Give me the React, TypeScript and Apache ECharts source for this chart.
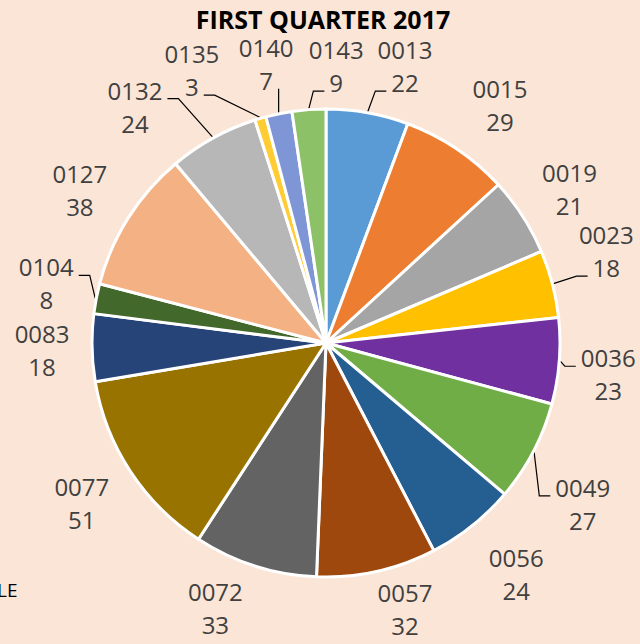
import React, { useEffect, useRef } from "react";
import * as echarts from "echarts";

const categories = ["0013", "0015", "0019", "0023", "0036", "0049", "0056", "0057", "0072", "0077", "0083", "0104", "0127", "0132", "0135", "0140", "0143"];
const values = [22, 29, 21, 18, 23, 27, 24, 32, 33, 51, 18, 8, 38, 24, 3, 7, 9];
const colors = ["#5B9BD5", "#ED7D31", "#A5A5A5", "#FFC000", "#7030A0", "#70AD47", "#255E91", "#9E480E", "#636363", "#997300", "#264478", "#43682B", "#F4B183", "#B7B7B7", "#FFCD33", "#7F96D6", "#8CC168"];
const showLine = [true, false, false, true, true, true, false, false, false, false, false, true, false, true, true, true, true];
const titleText = "FIRST QUARTER 2017";

// layout constants (not data)
const CX = 326;
const CY = 343;
const R = 234;
const LABEL_R = 290;
const FONT = 24;
const LINE_H = 33;
const DIGIT_W = FONT * 0.572;
const labelAngleShift = [5.7, 2.2, 0.5, -3.5, 1.9, 4.4, -0.9, -4.0, 5.0, 0, -0.2, 1.1, -0.4, -10.1, -9.9, -0.5, 6.3];
const labelRadiusShift = [-2, 5, -2, 5, -6, 13, 9, -13, -3, 2, -6, -4, 0, 14, 14, -5, -13];

const total = values.reduce((a, b) => a + b, 0);
const midAngles = values.map((v, i) => {
  const before = values.slice(0, i).reduce((a, b) => a + b, 0);
  return ((before + v / 2) / total) * 360;
});
const polar = (deg: number, r: number): [number, number] => {
  const a = (deg * Math.PI) / 180;
  return [CX + r * Math.sin(a), CY - r * Math.cos(a)];
};

export default function App() {
  const ref = useRef<HTMLDivElement>(null);
  useEffect(() => {
    document.body.style.margin = "0";
    const chart = echarts.init(ref.current!, undefined, { renderer: "svg" });
    chart.setOption({
      animation: false,
      backgroundColor: "#FBE5D6",
      title: {
        text: titleText,
        left: 318,
        textAlign: "center",
        top: 1,
        textStyle: { fontFamily: "Open Sans", fontWeight: "bold", fontSize: 25, color: "#000" },
      },
      graphic: [
        {
          type: "text",
          x: -3,
          y: 580,
          style: { text: "LE", fontFamily: "Open Sans", fontSize: 19, fill: "#000", verticalAlign: "top" },
        },
      ],
      series: [
        {
          type: "pie",
          center: [CX, CY],
          radius: R,
          startAngle: 90,
          clockwise: true,
          avoidLabelOverlap: false,
          data: categories.map((c, i) => ({
            name: c,
            value: values[i],
            itemStyle: { color: colors[i] },
            labelLine: { show: showLine[i] },
          })),
          itemStyle: { borderColor: "#fff", borderWidth: 3 },
          label: {
            show: true,
            position: "outside",
            formatter: "{b}\n{c}",
            fontFamily: "Open Sans",
            fontSize: FONT,
            lineHeight: LINE_H,
            color: "#404040",
          },
          labelLine: { length: 10, length2: 10, lineStyle: { color: "#000", width: 1.2 } },
          labelLayout: (params: any) => {
            const i = params.dataIndex;
            const mid = midAngles[i];
            const [lx, ly] = polar(mid + labelAngleShift[i], LABEL_R + labelRadiusShift[i]);
            const [sx, sy] = polar(mid, R + 1);
            const onRight = lx > sx;
            const useSecond = sy > ly + 32;
            const ey = useSecond ? ly + 25 : ly - 8;
            const txt = useSecond ? String(values[i]) : categories[i];
            const halfW = (txt.length * DIGIT_W) / 2;
            const ex = onRight ? lx - halfW - 5 : lx + halfW + 5;
            const sh = Math.min(11, Math.abs(ex - sx));
            const elx = onRight ? ex - sh : ex + sh;
            return {
              x: lx,
              y: ly,
              align: "center",
              verticalAlign: "middle",
              labelLinePoints: [
                [sx, sy],
                [elx, ey],
                [ex, ey],
              ],
            };
          },
        },
      ],
    });
    return () => chart.dispose();
  }, []);
  return <div ref={ref} style={{ width: 640, height: 644 }} />;
}
